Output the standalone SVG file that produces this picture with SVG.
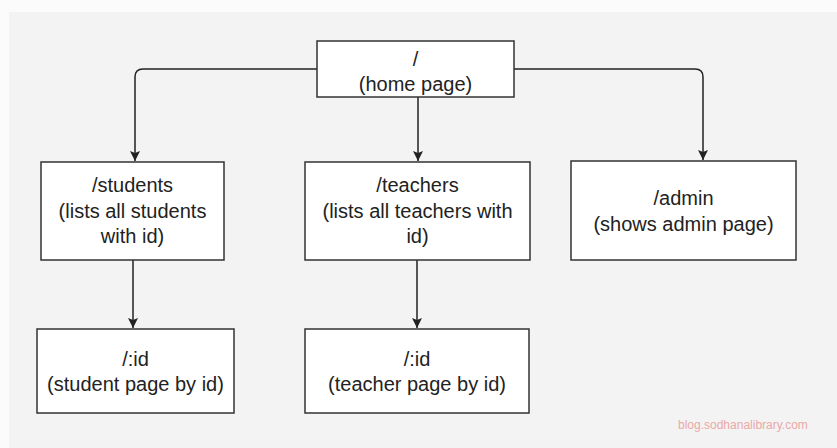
<svg xmlns="http://www.w3.org/2000/svg" width="837" height="448" viewBox="0 0 837 448">
  <style>
    .box { fill: #ffffff; stroke: #333333; stroke-width: 1.5; }
    .lbl { font-family: "Liberation Sans", Arial, sans-serif; font-size: 20px; fill: #222222; text-anchor: middle; }
    .edge { fill: none; stroke: #222222; stroke-width: 1.5; }
    .mark { font-family: "Liberation Sans", Arial, sans-serif; font-size: 12px; fill: #eaa9a9; }
  </style>
  <defs>
    <marker id="arrow" viewBox="0 0 10 10" refX="10" refY="5" markerWidth="10" markerHeight="10" markerUnits="userSpaceOnUse" orient="auto">
      <path d="M0,0 L10,5 L0,10 L2,5 z" fill="#222222"/>
    </marker>
  </defs>

  <!-- page background -->
  <rect x="0" y="0" width="837" height="448" fill="#fbfbfb"/>
  <rect x="9" y="12" width="828" height="436" fill="#f3f3f3"/>

  <!-- connectors -->
  <g id="connectors">
    <path class="edge" d="M317,69 H143 Q135,69 135,77 V161" marker-end="url(#arrow)"/>
    <path class="edge" d="M418,97 V161" marker-end="url(#arrow)"/>
    <path class="edge" d="M514,69 H695 Q703,69 703,77 V160" marker-end="url(#arrow)"/>
    <path class="edge" d="M133,260 V328" marker-end="url(#arrow)"/>
    <path class="edge" d="M417,260 V328" marker-end="url(#arrow)"/>
  </g>

  <!-- home -->
  <g id="node-home">
    <rect class="box" x="317" y="41" width="197" height="56"/>
    <text class="lbl" x="415.5" y="66">/</text>
    <text class="lbl" x="415.5" y="91">(home page)</text>
  </g>

  <!-- students -->
  <g id="node-students">
    <rect class="box" x="41" y="162" width="183" height="98"/>
    <text class="lbl" x="132.5" y="192">/students</text>
    <text class="lbl" x="132.5" y="218">(lists all students</text>
    <text class="lbl" x="132.5" y="243">with id)</text>
  </g>

  <!-- teachers -->
  <g id="node-teachers">
    <rect class="box" x="305" y="162" width="225" height="98"/>
    <text class="lbl" x="417.5" y="192">/teachers</text>
    <text class="lbl" x="417.5" y="218">(lists all teachers with</text>
    <text class="lbl" x="417.5" y="243">id)</text>
  </g>

  <!-- admin -->
  <g id="node-admin">
    <rect class="box" x="571" y="161" width="225" height="99"/>
    <text class="lbl" x="683.5" y="205">/admin</text>
    <text class="lbl" x="683.5" y="231">(shows admin page)</text>
  </g>

  <!-- student by id -->
  <g id="node-student-id">
    <rect class="box" x="37" y="329" width="197" height="84"/>
    <text class="lbl" x="135.5" y="366">/:id</text>
    <text class="lbl" x="135.5" y="391">(student page by id)</text>
  </g>

  <!-- teacher by id -->
  <g id="node-teacher-id">
    <rect class="box" x="305" y="329" width="224" height="84"/>
    <text class="lbl" x="417" y="366">/:id</text>
    <text class="lbl" x="417" y="391">(teacher page by id)</text>
  </g>

  <text class="mark" x="678" y="429">blog.sodhanalibrary.com</text>
</svg>
